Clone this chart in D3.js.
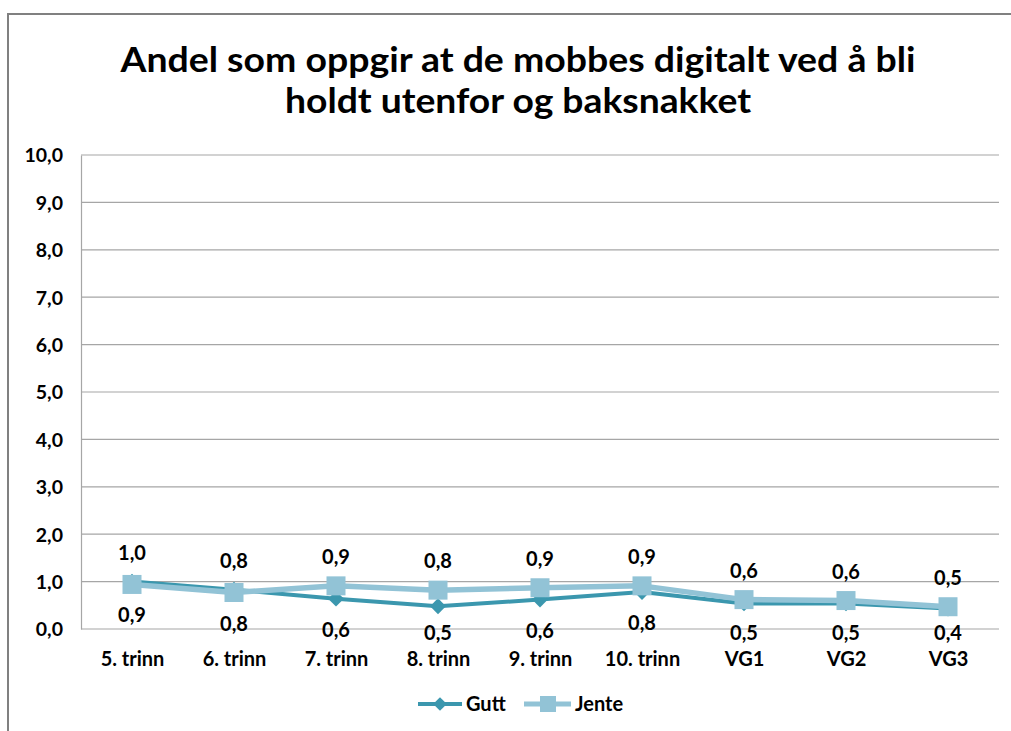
<!DOCTYPE html>
<html>
<head>
<meta charset="utf-8">
<script src="https://cdn.jsdelivr.net/npm/d3@7"></script>
<style>
  html, body { margin: 0; padding: 0; background: #fff; }
  svg { display: block; }
  text { font-family: Lato, "Open Sans", sans-serif; font-weight: bold; fill: #000; }
</style>
</head>
<body>
<svg id="chart" width="1011" height="731"></svg>
<script>
const titleLines = ["Andel som oppgir at de mobbes digitalt ved å bli", "holdt utenfor og baksnakket"];
const categories = ["5. trinn", "6. trinn", "7. trinn", "8. trinn", "9. trinn", "10. trinn", "VG1", "VG2", "VG3"];
const gutt = [1.0, 0.83, 0.64, 0.48, 0.62, 0.78, 0.54, 0.54, 0.43];
const jente = [0.94, 0.77, 0.91, 0.82, 0.87, 0.91, 0.62, 0.60, 0.47];
const yTicks = [0, 1, 2, 3, 4, 5, 6, 7, 8, 9, 10];
const seriesNames = ["Gutt", "Jente"];

const svg = d3.select("#chart");
const W = 1011, H = 731;
const plot = { left: 81, right: 999, top: 155, bottom: 629 };

const colGutt = "#3b97ae", colJente = "#92c3d6";
const fmt = v => d3.format(".1f")(v).replace(".", ",");

// outer border
svg.append("path")
  .attr("d", `M8,${H} L8,14 L${W},14`)
  .attr("fill", "none").attr("stroke", "#808080").attr("stroke-width", 2);

// title
const titleWidths = [795, 466];
svg.append("g").selectAll("text").data(titleLines).join("text")
  .attr("x", 518).attr("y", (d, i) => 72 + i * 41)
  .attr("text-anchor", "middle")
  .attr("textLength", (d, i) => titleWidths[i])
  .attr("lengthAdjust", "spacingAndGlyphs")
  .style("font-size", "35px")
  .text(d => d);

const x = d3.scalePoint().domain(categories).range([plot.left, plot.right]).padding(0.5);
const y = d3.scaleLinear().domain([0, 10]).range([plot.bottom, plot.top]);

// gridlines
svg.append("g").selectAll("line").data(yTicks).join("line")
  .attr("x1", plot.left).attr("x2", plot.right)
  .attr("y1", d => y(d)).attr("y2", d => y(d))
  .attr("stroke", "#a6a6a6").attr("stroke-width", 1.2);

// y axis
const yAxis = svg.append("g").attr("transform", `translate(${plot.left},0)`)
  .call(d3.axisLeft(y).tickValues(yTicks).tickFormat(fmt).tickSize(0).tickPadding(18));
yAxis.select(".domain").attr("stroke", "#a6a6a6").attr("stroke-width", 1.2);
yAxis.selectAll("text").style("font-size", "19.5px").attr("dy", "0.35em")
  .style("font-family", "Lato, sans-serif");

// x axis labels
const xAxis = svg.append("g").attr("transform", `translate(0,${plot.bottom})`)
  .call(d3.axisBottom(x).tickSize(0).tickPadding(0));
xAxis.select(".domain").remove();
xAxis.selectAll("text").style("font-size", "20px").style("font-family", "Lato, sans-serif")
  .attr("y", 30).attr("dy", "0.35em");

const line = d3.line().x((d, i) => x(categories[i])).y(d => y(d));

// Gutt
svg.append("path").datum(gutt).attr("d", line)
  .attr("fill", "none").attr("stroke", colGutt).attr("stroke-width", 4).attr("stroke-linejoin", "round");
svg.append("g").selectAll("path").data(gutt).join("path")
  .attr("d", d3.symbol(d3.symbolDiamond2, 160)())
  .attr("transform", (d, i) => `translate(${x(categories[i])},${y(d)})`)
  .attr("fill", colGutt);

// Jente
svg.append("path").datum(jente).attr("d", line)
  .attr("fill", "none").attr("stroke", colJente).attr("stroke-width", 5.5).attr("stroke-linejoin", "round");
svg.append("g").selectAll("rect").data(jente).join("rect")
  .attr("x", (d, i) => x(categories[i]) - 9.5).attr("y", d => y(d) - 9.5)
  .attr("width", 19).attr("height", 19)
  .attr("fill", colJente);

// data labels: higher series above, lower below
function labels(vals, other) {
  svg.append("g").selectAll("text").data(vals).join("text")
    .attr("x", (d, i) => x(categories[i]))
    .attr("y", (d, i) => d >= other[i] ? y(d) - 29 : Math.min(y(d) + 31, plot.bottom + 4))
    .attr("dy", "0.35em")
    .attr("text-anchor", "middle")
    .style("font-size", "20px")
    .text(d => fmt(d));
}
labels(gutt, jente);
labels(jente, gutt);

// legend
const lg = svg.append("g");
lg.append("line").attr("x1", 418).attr("x2", 462).attr("y1", 704).attr("y2", 704)
  .attr("stroke", colGutt).attr("stroke-width", 4);
lg.append("path").attr("d", d3.symbol(d3.symbolDiamond2, 120)())
  .attr("transform", "translate(440,704)").attr("fill", colGutt);
lg.append("text").attr("x", 466).attr("y", 704).attr("dy", "0.35em").style("font-size", "20px").text(seriesNames[0]);
lg.append("line").attr("x1", 524).attr("x2", 571).attr("y1", 704).attr("y2", 704)
  .attr("stroke", colJente).attr("stroke-width", 5);
lg.append("rect").attr("x", 540).attr("y", 696).attr("width", 16).attr("height", 16).attr("fill", colJente);
lg.append("text").attr("x", 575).attr("y", 704).attr("dy", "0.35em").style("font-size", "20px").text(seriesNames[1]);
</script>
</body>
</html>
